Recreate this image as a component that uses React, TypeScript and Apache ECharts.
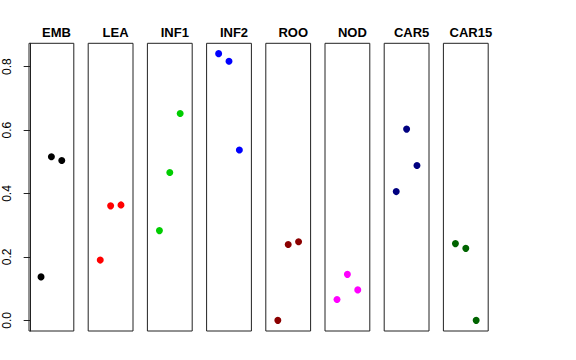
import React, { useEffect, useRef } from "react";
import * as echarts from "echarts";

const panels = ["EMB", "LEA", "INF1", "INF2", "ROO", "NOD", "CAR5", "CAR15"];
const colors = ["#000000", "#FF0000", "#00CD00", "#0000FF", "#8B0000", "#FF00FF", "#000080", "#006400"];
const replicate = [1, 2, 3];
const values: number[][] = [
  [0.137, 0.516, 0.504],
  [0.19, 0.361, 0.364],
  [0.283, 0.466, 0.652],
  [0.841, 0.817, 0.537],
  [0.0, 0.239, 0.248],
  [0.066, 0.145, 0.096],
  [0.406, 0.603, 0.488],
  [0.242, 0.227, 0.0],
];
const yTicks = [0, 0.2, 0.4, 0.6, 0.8];

export default function App() {
  const ref = useRef<HTMLDivElement>(null);
  useEffect(() => {
    if (!ref.current) return;
    const chart = echarts.init(ref.current, undefined, { renderer: "svg" });
    const left0 = 29;
    const pitch = 59.2;
    const w = 44.8;
    const top = 43.3;
    const h = 287.7;
    const ymin = -0.0336;
    const ymax = 0.8736;
    const grids = panels.map((_, i) => ({
      left: left0 + i * pitch,
      top,
      width: w,
      height: h,
      show: true,
      borderColor: "#222",
      borderWidth: 1,
      backgroundColor: "transparent",
    }));
    const xAxes = panels.map((_, i) => ({
      type: "value",
      gridIndex: i,
      min: -0.16,
      max: 4.16,
      show: false,
    }));
    const yAxes = panels.map((_, i) => ({
      type: "value",
      gridIndex: i,
      min: ymin,
      max: ymax,
      show: i === 0,
      splitLine: { show: false },
      axisLine: { show: true, lineStyle: { color: "#222", width: 1 } },
      axisTick: {
        show: true,
        length: 7,
        customValues: yTicks,
        lineStyle: { color: "#222" },
      },
      axisLabel: {
        show: true,
        customValues: yTicks,
        rotate: 90,
        margin: 16,
        fontSize: 12,
        color: "#000",
        fontFamily: "Liberation Sans, Arial, sans-serif",
        formatter: (v: number) => v.toFixed(1),
      },
    }));
    const series = panels.map((_, i) => ({
      type: "scatter",
      xAxisIndex: i,
      yAxisIndex: i,
      symbol: "circle",
      symbolSize: 7,
      itemStyle: { color: colors[i], opacity: 1 },
      data: replicate.map((x, j) => [x, values[i][j]]),
    }));
    const titles = panels.map((name, i) => ({
      text: name,
      left: left0 + i * pitch + w / 2,
      top: 21,
      textAlign: "center",
      textStyle: {
        fontSize: 13,
        fontWeight: "bold",
        color: "#000",
        fontFamily: "Liberation Sans, Arial, sans-serif",
      },
    }));
    chart.setOption({
      animation: false,
      backgroundColor: "#fff",
      title: titles,
      grid: grids,
      xAxis: xAxes,
      yAxis: yAxes,
      series,
    });
    return () => chart.dispose();
  }, []);
  return <div ref={ref} style={{ width: 576, height: 360, position: "absolute", left: 0, top: 0 }} />;
}
